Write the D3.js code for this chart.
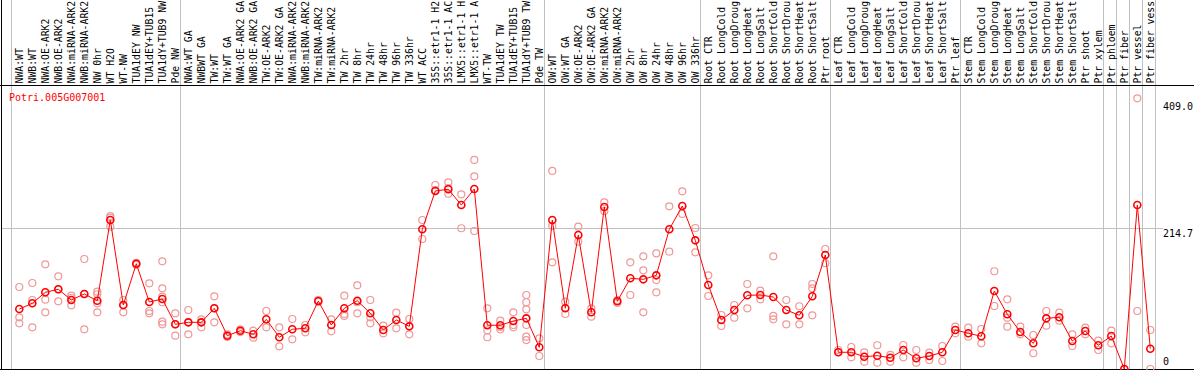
<!DOCTYPE html>
<html lang="en">
<head>
    <meta charset="UTF-8" />
    <title>Potri.005G007001</title>
    <script src="https://d3js.org/d3.v7.min.js"></script>
    <style>
        body {
            margin: 0;
            background: #fff;
        }
        svg {
            display: block;
            font-family: "DejaVu Sans Mono", monospace;
            font-size: 10px;
        }
    </style>
</head>
<body>
<div id="chart"></div>

<script>
    // Sample names, in plot order
    const categories = [
        "NWA:WT", "NWB:WT", "NWA:OE-ARK2", "NWB:OE-ARK2", "NWA:miRNA-ARK2", "NWB:miRNA-ARK2",
        "NW 0hr", "WT H2O", "WT-NW", "TUA1dEY NW", "TUA1dEY+TUB15 NW", "TUA1dY+TUB9 NW", "Pde NW",
        "NWA:WT GA", "NWBWT GA", "TW:WT", "TW:WT GA", "NWA:OE-ARK2 GA", "NWB:OE-ARK2 GA",
        "TW:OE-ARK2", "TW:OE-ARK2 GA", "NWA:miRNA-ARK2 GA", "NWB:miRNA-ARK2 GA", "TW:miRNA-ARK2",
        "TW:miRNA-ARK2 GA", "TW 2hr", "TW 8hr", "TW 24hr", "TW 48hr", "TW 96hr", "TW 336hr",
        "WT ACC", "35S::etr1-1 H2O", "35S::etr1-1 ACC", "LMX5::etr1-1 H2O", "LMX5::etr1-1 ACC",
        "WT-TW", "TUA1dEY TW", "TUA1dEY+TUB15 TW", "TUA1dY+TUB9 TW", "Pde TW",
        "OW:WT", "OW:WT GA", "OW:OE-ARK2", "OW:OE-ARK2 GA", "OW:miRNA-ARK2", "OW:miRNA-ARK2 GA",
        "OW 2hr", "OW 8hr", "OW 24hr", "OW 48hr", "OW 96hr", "OW 336hr",
        "Root CTR", "Root LongCold", "Root LongDrought", "Root LongHeat", "Root LongSalt",
        "Root ShortCold", "Root ShortDrought", "Root ShortHeat", "Root ShortSalt", "Ptr root",
        "Leaf CTR", "Leaf LongCold", "Leaf LongDrought", "Leaf LongHeat", "Leaf LongSalt",
        "Leaf ShortCold", "Leaf ShortDrought", "Leaf ShortHeat", "Leaf ShortSalt", "Ptr leaf",
        "Stem CTR", "Stem LongCold", "Stem LongDrought", "Stem LongHeat", "Stem LongSalt",
        "Stem ShortCold", "Stem ShortDrought", "Stem ShortHeat", "Stem ShortSalt",
        "Ptr shoot", "Ptr xylem", "Ptr phloem", "Ptr fiber", "Ptr vessel", "Ptr fiber vessel"
    ];

    // Mean expression per sample
    const means = [
        91.5, 100.2, 117.0, 121.6, 105.3, 114.4, 104.2, 227.3, 97.6, 160.6, 102.2, 106.8, 68.2,
        71.2, 71.2, 92.6, 50.8, 58.4, 52.9, 75.8, 48.4, 60.6, 62.1, 103.7, 67.1, 92.6, 104.2, 85.0,
        59.5, 74.8, 65.1, 213.1, 271.6, 274.2, 250.2, 274.6, 66.7, 66.7, 73.2, 77.3, 33.1,
        227.3, 92.6, 204.4, 86.5, 247.1, 103.3, 138.4, 136.8, 142.9, 213.1, 248.7, 196.3,
        128.2, 74.8, 90.0, 112.4, 112.9, 109.8, 90.0, 81.9, 110.9, 173.9,
        25.5, 25.5, 18.8, 20.3, 17.2, 29.0, 16.3, 19.8, 25.5, 59.5,
        54.5, 49.9, 119.0, 83.5, 56.4, 39.2, 77.3, 78.9, 42.7, 58.0, 36.2, 50.3, 0, 250.2, 31.0
    ];

    // Replicate values per sample
    const replicates = [
        [125.1, 78.9, 69.7], [131.2, 105.3, 63.6], [159.7, 105.7, 86.5], [141.4, 103.3, 121.6],
        [111.8, 97.2, 108.3], [167.8, 60.6, 114.4], [117.9, 114.0, 100.2, 86.5], [233.4, 230.8, 217.1],
        [105.3, 86.5, 97.6], [159.0, 162.0], [130.7, 88.5, 85.0], [164.3, 123.1, 110.3, 101.8, 72.2, 68.2],
        [85.0, 50.8, 68.2],
        [90.0, 52.9, 71.2], [75.8, 63.6, 71.2], [110.9, 71.2, 92.6], [52.9, 48.8], [60.6, 56.4],
        [58.4, 47.8], [88.5, 63.6], [63.6, 34.6], [76.3, 45.3], [67.1, 56.0],
        [105.3, 102.2], [75.8, 57.5], [111.8, 83.9, 80.9], [127.7, 101.8, 85.0], [105.3, 78.9, 69.7],
        [66.1, 54.5], [85.9, 62.1], [76.3, 52.9],
        [227.3, 198.3], [280.7, 273.1], [284.8, 267.4, 276.0], [266.5, 214.7], [318.9, 294.0, 210.5],
        [92.6, 59.0, 48.4], [73.7, 60.6, 64.1], [86.5, 63.6, 67.1], [112.9, 101.8, 91.1, 67.1, 49.3, 44.2],
        [46.8, 19.8],
        [302.1, 218.2, 162.8], [102.7, 83.9], [217.1, 194.2], [92.6, 79.8], [254.3, 241.0], [105.3, 100.7],
        [162.8, 112.9], [171.9, 150.6, 86.5], [176.5, 135.8, 117.0], [248.2, 179.0], [271.1, 236.5],
        [215.1, 178.0],
        [142.9, 111.4], [82.4, 65.6], [97.6, 78.3], [129.7, 92.6], [119.5, 106.3], [171.9, 80.9, 75.8],
        [105.3, 68.2], [95.7, 68.2], [129.7, 123.1, 81.9], [183.1, 161.3],
        [29.0, 25.9], [33.6, 17.8], [25.5, 11.1], [36.2, 9.6], [21.4, 11.1], [36.6, 17.8], [29.0, 9.6],
        [24.9, 13.7], [35.1, 12.2], [64.5, 54.5],
        [63.0, 49.3], [61.0, 39.2], [149.1, 96.1], [106.3, 78.3, 64.5], [64.5, 52.9], [51.9, 24.0],
        [88.5, 66.1], [85.9, 73.7], [52.9, 35.1], [63.0, 52.9], [43.2, 29.0], [58.4, 39.2], [0],
        [413.0, 88.5], [59.5, 0]
    ];

    // Index of the last sample in each group (a separator is drawn after it)
    const groupEnds = [12, 40, 52, 62, 72, 83, 84, 85, 86, 87];

    const yTicks = [0, 214.7, 409.0];
    const gridTicks = [214.7];
    const geneName = "Potri.005G007001";

    // the label strip only has room for 14 characters
    const maxLabelChars = 14;

    const width = 1194, height = 370;
    const plotTop = 85, plotBottom = 369, plotLeft = 1;

    const svg = d3.select("#chart").append("svg")
        .attr("width", width)
        .attr("height", height);

    const x = d3.scaleLinear().domain([0, categories.length - 1]).range([19.3, 1150.3]);
    const y = d3.scaleLinear().domain([0, 409.0]).range([plotBottom, 100.9]);

    const px = v => Math.round(v) + 0.5;

    // grid
    const grid = svg.append("g")
        .attr("stroke", "#c0c0c0")
        .attr("stroke-width", 1)
        .attr("shape-rendering", "crispEdges");

    grid.selectAll("line.h").data(gridTicks).join("line")
        .attr("class", "h")
        .attr("x1", plotLeft).attr("x2", 1163)
        .attr("y1", d => px(y(d))).attr("y2", d => px(y(d)));

    const sepX = [x(-0.67)].concat(groupEnds.map(i => x(i + 0.385)));
    grid.selectAll("line.v").data(sepX).join("line")
        .attr("class", "v")
        .attr("x1", d => px(d)).attr("x2", d => px(d))
        .attr("y1", 0).attr("y2", plotBottom);

    // frame
    const frame = svg.append("g")
        .attr("stroke", "#000")
        .attr("shape-rendering", "crispEdges");
    frame.append("line").attr("x1", 0).attr("x2", width).attr("y1", plotTop + 0.5).attr("y2", plotTop + 0.5);
    frame.append("line").attr("x1", 0).attr("x2", width).attr("y1", plotBottom + 0.5).attr("y2", plotBottom + 0.5);
    frame.append("line").attr("x1", plotLeft + 0.5).attr("x2", plotLeft + 0.5).attr("y1", 0).attr("y2", height);

    // replicate points
    const repData = [];
    replicates.forEach((vals, i) => vals.forEach(v => repData.push({ i, v })));
    svg.append("g").selectAll("circle").data(repData).join("circle")
        .attr("cx", d => x(d.i))
        .attr("cy", d => y(d.v))
        .attr("r", 3.5)
        .attr("fill", "none")
        .attr("stroke", "#f09898")
        .attr("stroke-width", 1.2);

    // mean line
    const line = d3.line()
        .x((d, i) => x(i))
        .y(d => y(d));
    svg.append("path")
        .datum(means)
        .attr("d", line)
        .attr("fill", "none")
        .attr("stroke", "#ff0000")
        .attr("stroke-width", 1);

    // mean points
    svg.append("g").selectAll("circle").data(means).join("circle")
        .attr("cx", (d, i) => x(i))
        .attr("cy", d => y(d))
        .attr("r", 3.5)
        .attr("fill", "none")
        .attr("stroke", "#ff0000")
        .attr("stroke-width", 1.6);

    // sample labels, rotated; long names are cut like in the original strip
    svg.append("g").selectAll("text").data(categories).join("text")
        .attr("transform", (d, i) => `translate(${x(i) + 3.6},83.5) rotate(-90)`)
        .attr("font-size", "9.8px")
        .attr("fill", "#000")
        .text(d => d.slice(0, maxLabelChars))
        .append("title").text(d => d);

    // right axis labels
    svg.append("g").selectAll("text").data(yTicks).join("text")
        .attr("x", 1163)
        .attr("y", d => d === 0 ? y(d) - 4 : y(d) + 9)
        .attr("fill", "#000")
        .text(d => d === 0 ? "0" : d3.format(".1f")(d));

    // gene name
    svg.append("text")
        .attr("x", 9)
        .attr("y", 101)
        .attr("fill", "#ff0000")
        .text(geneName);
</script>
</body>
</html>
